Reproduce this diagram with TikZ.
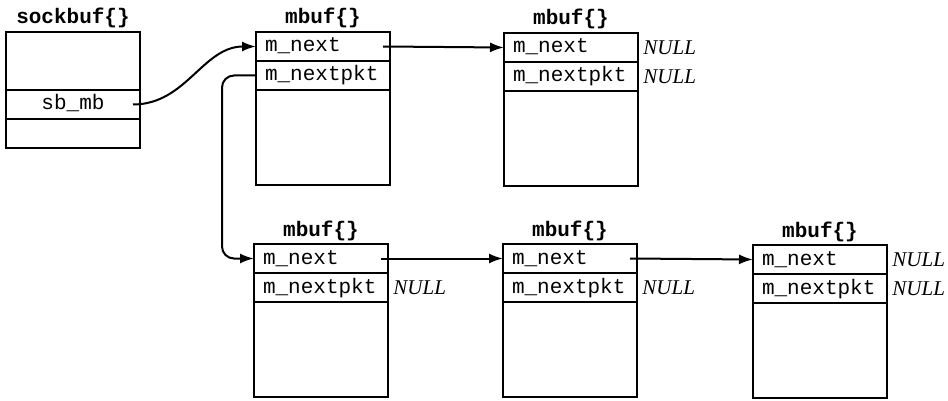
\documentclass[tikz,border=0pt]{standalone}
\usepackage{fontspec}
\setmainfont{Liberation Serif}
\setmonofont{Liberation Mono}
\usetikzlibrary{arrows.meta}
\newcommand\fieldfont{\fontsize{10.5}{12}\selectfont\ttfamily}
\newcommand\boxtitlefont{\fontsize{10.5}{12}\selectfont\ttfamily\bfseries}
\tikzset{
  cell/.style={draw, line width=0.9pt, anchor=north west, minimum height=14.5pt,
    text width=58pt, inner xsep=4.5pt, inner ysep=0pt, outer sep=0pt, align=left,
    text height=7.5pt, text depth=2pt, font=\fieldfont},
  cellc/.style={cell, align=center},
  blank/.style={draw, line width=0.9pt, anchor=north west, minimum width=67pt,
    minimum height=47.5pt, inner sep=0pt, outer sep=0pt},
  boxtitle/.style={anchor=base, inner sep=0pt, font=\boxtitlefont},
  nulltag/.style={anchor=west, inner sep=0pt, font=\fontsize{10.5}{12}\selectfont\itshape},
  link/.style={line width=1pt, -{Latex[length=7pt,width=5pt]}}
}
\begin{document}
\begin{tikzpicture}[x=0.5pt,y=-0.5pt]
\useasboundingbox (0,0) rectangle (948,401);

% socket buffer
\node[blank, minimum height=29pt] (sbtop) at (6,32) {};
\node[cellc] (sbmb) at (sbtop.south west) {sb\_mb};
\node[blank, minimum height=14.5pt] (sbbot) at (sbmb.south west) {};
\node[boxtitle] (sbt) at ([yshift=4pt]sbtop.north) {sockbuf\{\}};

% first record, first mbuf
\node[cell] (aN) at (256,32) {m\_next};
\node[cell] (aP) at (aN.south west) {m\_nextpkt};
\node[blank] (aR) at (aP.south west) {};
\node[boxtitle] (aT) at ([yshift=4pt]aN.north) {mbuf\{\}};

% first record, second mbuf
\node[cell] (bN) at (504,33) {m\_next};
\node[cell] (bP) at (bN.south west) {m\_nextpkt};
\node[blank] (bR) at (bP.south west) {};
\node[boxtitle] (bT) at ([yshift=4pt]bN.north) {mbuf\{\}};
\node[nulltag] (bNnull) at ([xshift=2.5pt]bN.east) {NULL};
\node[nulltag] (bPnull) at ([xshift=2.5pt]bP.east) {NULL};

% second record, first mbuf
\node[cell] (cN) at (254,244) {m\_next};
\node[cell] (cP) at (cN.south west) {m\_nextpkt};
\node[blank] (cR) at (cP.south west) {};
\node[boxtitle] (cT) at ([yshift=4pt]cN.north) {mbuf\{\}};
\node[nulltag] (cPnull) at ([xshift=2.5pt]cP.east) {NULL};

% second record, second mbuf
\node[cell] (dN) at (503,244) {m\_next};
\node[cell] (dP) at (dN.south west) {m\_nextpkt};
\node[blank] (dR) at (dP.south west) {};
\node[boxtitle] (dT) at ([yshift=4pt]dN.north) {mbuf\{\}};
\node[nulltag] (dPnull) at ([xshift=2.5pt]dP.east) {NULL};

% second record, third mbuf
\node[cell] (eN) at (753,245) {m\_next};
\node[cell] (eP) at (eN.south west) {m\_nextpkt};
\node[blank] (eR) at (eP.south west) {};
\node[boxtitle] (eT) at ([yshift=4pt]eN.north) {mbuf\{\}};
\node[nulltag] (eNnull) at ([xshift=2.5pt]eN.east) {NULL};
\node[nulltag] (ePnull) at ([xshift=2.5pt]eP.east) {NULL};

% pointers
\draw[link] ([xshift=-3.5pt]sbmb.east) to[out=0,in=180] (aN.west);
\draw[link] ([xshift=-3.5pt]aN.east) -- (bN.west);
\draw[link, rounded corners=6pt] (aP.west) -- ++(-34,0) |- (cN.west);
\draw[link] ([xshift=-3.5pt]cN.east) -- (dN.west);
\draw[link] ([xshift=-3.5pt]dN.east) -- (eN.west);
\end{tikzpicture}
\end{document}
